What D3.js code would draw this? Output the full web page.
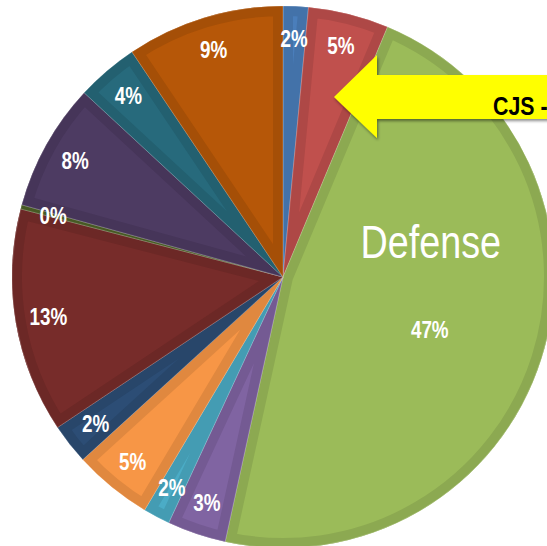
<!DOCTYPE html>
<html>
<head>
<meta charset="utf-8">
<script src="https://cdn.jsdelivr.net/npm/d3@7"></script>
<style>
  html, body { margin: 0; padding: 0; background: #ffffff; }
  svg { display: block; }
</style>
</head>
<body>
<div id="chart"></div>
<script>
// ---- data ----
const categories = ["", "CJS", "Defense", "", "", "", "", "", "", "", "", ""];
const values = [1.5, 4.8, 47.1, 3.5, 1.6, 4.7, 2.4, 13.4, 0.25, 7.6, 3.7, 9.4];
const pctLabels = ["2%", "5%", "47%", "3%", "2%", "5%", "2%", "13%", "0%", "8%", "4%", "9%"];
const colors = ["#4a7ebb", "#c0504d", "#9bbb59", "#8064a2", "#4bacc6", "#f79646",
                "#2c4d75", "#772c2a", "#4f6228", "#4d3b62", "#276a7c", "#b65708"];
const shownName = "Defense";
const calloutText = "CJS -";

// ---- layout ----
const W = 547, H = 546;
const cx = 283, cy = 277, R = 271;
const band = 10;
const squeeze = 0.82; // emulate a narrow typeface
const fontFam = "'Liberation Sans', Arial, sans-serif";

const svg = d3.select("#chart").append("svg")
  .attr("width", W).attr("height", H)
  .attr("viewBox", `0 0 ${W} ${H}`);

const defs = svg.append("defs");
const shadow = defs.append("filter").attr("id", "shadow")
  .attr("x", "-10%").attr("y", "-20%").attr("width", "130%").attr("height", "160%");
shadow.append("feDropShadow").attr("dx", 1).attr("dy", 2)
  .attr("stdDeviation", 1.5).attr("flood-color", "#000").attr("flood-opacity", 0.45);

const pie = d3.pie().sort(null).value(d => d);
const arcs = pie(values);
const arc = d3.arc().innerRadius(0).outerRadius(R);
const labelArc = d3.arc().innerRadius(238).outerRadius(238);
const bigArc = d3.arc().innerRadius(156).outerRadius(156);

const g = svg.append("g").attr("transform", `translate(${cx},${cy})`);

arcs.forEach((a, i) => {
  defs.append("clipPath").attr("id", "clip" + i)
    .append("path").attr("d", arc(a));
});

const slices = g.selectAll("g.slice").data(arcs).join("g").attr("class", "slice");

slices.append("path")
  .attr("d", d => arc(d))
  .attr("fill", (d, i) => colors[i]);

slices.append("path")
  .attr("d", d => arc(d))
  .attr("fill", "none")
  .attr("stroke", (d, i) => d3.color(colors[i]).darker(0.28))
  .attr("stroke-width", band * 2)
  .attr("stroke-linejoin", "miter")
  .attr("clip-path", (d, i) => `url(#clip${i})`);

slices.append("path")
  .attr("d", d => arc(d))
  .attr("fill", "none")
  .attr("stroke", "#ffffff")
  .attr("stroke-opacity", 0.35)
  .attr("stroke-width", 0.6);

const maxIdx = values.indexOf(d3.max(values));

function labelPos(d, i) {
  const c = (i === maxIdx ? bigArc : labelArc).centroid(d);
  return i === maxIdx ? [c[0] - 2, c[1] + 6] : c;
}

// percentage labels
g.selectAll("text.pct").data(arcs).join("text")
  .attr("class", "pct")
  .attr("transform", (d, i) => {
    const c = labelPos(d, i);
    return `translate(${c[0]},${c[1]}) scale(${squeeze},1)`;
  })
  .attr("text-anchor", "middle")
  .attr("dominant-baseline", "central")
  .attr("font-family", fontFam)
  .attr("font-weight", "bold")
  .attr("font-size", 23)
  .attr("fill", "#ffffff")
  .text((d, i) => pctLabels[i]);

// category name on largest slice
const bc = labelPos(arcs[maxIdx], maxIdx);
g.append("text")
  .attr("transform", `translate(${bc[0] + 1},${bc[1] - 72}) scale(${squeeze},1)`)
  .attr("text-anchor", "middle")
  .attr("font-family", fontFam)
  .attr("font-size", 46)
  .attr("fill", "#ffffff")
  .text(categories[maxIdx] || shownName);

// callout arrow
const arrowPts = [[334, 97], [377, 55], [377, 75], [570, 75], [570, 119], [377, 119], [377, 138]];
svg.append("path")
  .attr("d", d3.line()(arrowPts) + "Z")
  .attr("fill", "#ffff00")
  .attr("filter", "url(#shadow)");

svg.append("text")
  .attr("transform", `translate(493,115) scale(${squeeze},1)`)
  .attr("font-family", fontFam)
  .attr("font-weight", "bold")
  .attr("font-size", 26)
  .attr("fill", "#000000")
  .text(calloutText);
</script>
</body>
</html>
